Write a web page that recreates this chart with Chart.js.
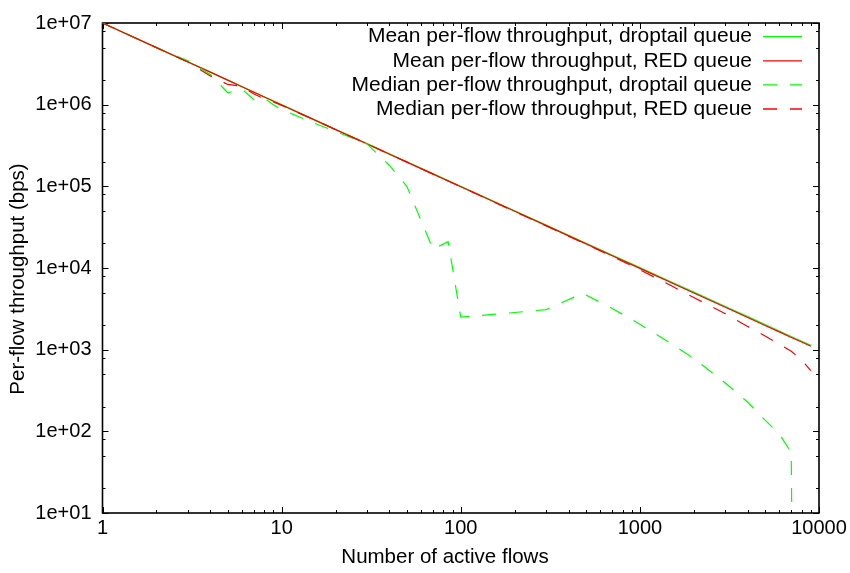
<!DOCTYPE html>
<html>
<head>
<meta charset="utf-8">
<script src="https://cdn.jsdelivr.net/npm/chart.js@4/dist/chart.umd.min.js"></script>
<style>
  html, body { margin: 0; padding: 0; background: #fff; }
  canvas { display: block; }
</style>
</head>
<body>
<canvas id="chart" width="850" height="573"></canvas>
<script>
Chart.defaults.color = '#000';
Chart.defaults.font.family = '"Liberation Sans", Arial, Helvetica, sans-serif';
Chart.defaults.font.size = 20;

// number of active flows (x)
const flows = [1, 2, 3, 4, 5, 6, 7, 8, 9, 10, 15, 20, 30, 40, 50, 70, 85, 100, 200, 300, 480, 700,
    1000, 1500, 2000, 3000, 4000, 5000, 6000, 7000, 8000, 9000];
// the droptail median ends near 7000 and drops off the bottom
const dropFlows = [1, 2, 3, 4, 5, 6, 7, 8, 9, 10, 15, 20, 30, 40, 50, 70, 85, 100, 200, 300, 480, 700,
    1000, 1500, 2000, 3000, 4000, 5000, 6000, 7000, 7100];

const meanDroptail = [1e7, 5e6, 3.34e6, 2.5e6, 2e6, 1.67e6, 1.43e6, 1.25e6, 1.11e6, 1e6, 6.67e5, 5e5, 3.34e5, 2.5e5,
    2e5, 1.43e5, 1.18e5, 1e5, 5.02e4, 3.35e4, 2.1e4, 1.44e4, 1.01e4, 6.75e3, 5.06e3, 3.38e3, 2.54e3, 2.03e3,
    1.69e3, 1.45e3, 1.27e3, 1.13e3];
const meanRed = [1e7, 5e6, 3.33e6, 2.5e6, 2e6, 1.66e6, 1.42e6, 1.24e6, 1.1e6, 0.99e6, 6.6e5, 4.95e5, 3.3e5, 2.47e5,
    1.98e5, 1.41e5, 1.16e5, 0.99e5, 4.95e4, 3.3e4, 2.06e4, 1.41e4, 0.99e4, 6.6e3, 4.95e3, 3.3e3, 2.48e3, 1.98e3,
    1.65e3, 1.41e3, 1.24e3, 1.1e3];
const medianDroptail = [1e7, 5e6, 3.45e6, 2.35e6, 1.4e6, 1.55e6, 1.15e6, 1.2e6, 1.0e6, 8.7e5, 6.0e5, 4.7e5, 3.3e5,
    1.8e5, 1.0e5, 1.7e4, 2.1e4, 2.5e3, 2.85e3, 3.1e3, 4.9e3, 3.2e3, 2.05e3, 1.18e3, 7.8e2, 3.9e2, 2.27e2, 1.37e2,
    93, 55, 1];
const medianRed = [1e7, 5e6, 3.33e6, 2.25e6, 1.77e6, 1.68e6, 1.35e6, 1.18e6, 1.08e6, 0.98e6, 6.6e5, 4.95e5, 3.3e5,
    2.47e5, 1.98e5, 1.41e5, 1.16e5, 0.99e5, 4.9e4, 3.28e4, 2.04e4, 1.39e4, 9.5e3, 6.05e3, 4.35e3, 2.75e3, 1.92e3,
    1.47e3, 1.17e3, 955, 750, 555];

const seriesLabels = [
    'Mean per-flow throughput, droptail queue',
    'Mean per-flow throughput, RED queue',
    'Median per-flow throughput, droptail queue',
    'Median per-flow throughput, RED queue'
];

// axis ticks
const xTickValues = [1, 10, 100, 1000, 10000];
const xTickLabels = ['1', '10', '100', '1000', '10000'];
const yTickValues = [1e1, 1e2, 1e3, 1e4, 1e5, 1e6, 1e7];
const yTickLabels = ['1e+01', '1e+02', '1e+03', '1e+04', '1e+05', '1e+06', '1e+07'];
const xMinorSteps = [2, 3, 4, 5, 6, 7, 8, 9];
const yMinorSteps = [2, 5, 8];

const GREEN = '#00ff00';
const RED = '#ff0000';
const DASH = [14, 13];

const toPoints = (xs, ys) => xs.map((v, i) => ({ x: v, y: ys[i] }));

// border box + inward tick marks on all four sides (gnuplot style)
const frameTicks = {
    id: 'frameTicks',
    beforeDatasetsDraw(chart) {
        const { ctx, chartArea: a, scales: { x, y } } = chart;
        ctx.save();
        ctx.strokeStyle = '#000';
        ctx.lineWidth = 1;
        ctx.beginPath();
        const xMark = (v, len) => {
            const px = Math.round(x.getPixelForValue(v)) + 0.5;
            ctx.moveTo(px, a.bottom); ctx.lineTo(px, a.bottom - len);
            ctx.moveTo(px, a.top); ctx.lineTo(px, a.top + len);
        };
        const yMark = (v, len) => {
            const py = Math.round(y.getPixelForValue(v)) + 0.5;
            ctx.moveTo(a.left, py); ctx.lineTo(a.left + len, py);
            ctx.moveTo(a.right, py); ctx.lineTo(a.right - len, py);
        };
        xTickValues.forEach(v => {
            xMark(v, 6);
            if (v < 10000) xMinorSteps.forEach(m => xMark(v * m, 3));
        });
        yTickValues.forEach(v => {
            yMark(v, 6);
            if (v < 1e7) yMinorSteps.forEach(m => yMark(v * m, 3));
        });
        ctx.stroke();
        ctx.lineWidth = 1.6;
        ctx.strokeRect(a.left, a.top, a.right - a.left, a.bottom - a.top);
        ctx.restore();
    },
    afterDraw(chart) {
        const { ctx } = chart;
        ctx.save();
        ctx.fillStyle = '#000';
        ctx.font = '20.5px "Liberation Sans", Arial, sans-serif';
        ctx.textAlign = 'center';
        ctx.textBaseline = 'middle';
        ctx.fillText('Number of active flows', 445, 557);
        ctx.translate(18, 279);
        ctx.rotate(-Math.PI / 2);
        ctx.fillText('Per-flow throughput (bps)', 0, 0);
        ctx.restore();
    }
};

// key in the top right corner: right-aligned text, line sample on the right
const insideKey = {
    id: 'insideKey',
    afterDatasetsDraw(chart) {
        const { ctx } = chart;
        ctx.save();
        ctx.font = '21px "Liberation Sans", Arial, sans-serif';
        ctx.textAlign = 'right';
        ctx.textBaseline = 'middle';
        chart.data.datasets.forEach((ds, i) => {
            const yy = 36.7 + i * 24.1;
            ctx.fillStyle = '#000';
            ctx.fillText(ds.label, 752, yy);
            ctx.strokeStyle = ds.borderColor;
            ctx.lineWidth = 1.3;
            ctx.setLineDash(ds.borderDash || []);
            ctx.beginPath();
            ctx.moveTo(763, yy);
            ctx.lineTo(802, yy);
            ctx.stroke();
        });
        ctx.restore();
    }
};

const chart = new Chart(document.querySelector('#chart'), {
    type: 'line',
    data: {
        datasets: [
            {
                label: seriesLabels[0],
                data: toPoints(flows, meanDroptail),
                borderColor: GREEN,
                borderWidth: 1.2,
                order: 4,
            },
            {
                label: seriesLabels[1],
                data: toPoints(flows, meanRed),
                borderColor: RED,
                borderWidth: 1.2,
                order: 3,
            },
            {
                label: seriesLabels[2],
                data: toPoints(dropFlows, medianDroptail),
                borderColor: GREEN,
                borderWidth: 1.2,
                borderDash: DASH,
                order: 2,
            },
            {
                label: seriesLabels[3],
                data: toPoints(flows, medianRed),
                borderColor: RED,
                borderWidth: 1.2,
                borderDash: DASH,
                order: 1,
            },
        ]
    },
    options: {
        responsive: false,
        animation: false,
        devicePixelRatio: 1,
        layout: {
            padding: { top: 14, right: 31, left: 0, bottom: 0 }
        },
        elements: {
            point: { radius: 0, hoverRadius: 0 },
            line: { tension: 0, fill: false }
        },
        scales: {
            x: {
                type: 'logarithmic',
                min: 1,
                max: 10000,
                afterBuildTicks: (s) => { s.ticks = xTickValues.map(v => ({ value: v })); },
                afterFit: (s) => { s.height = 60; },
                grid: { display: false, drawTicks: false },
                border: { display: false },
                ticks: {
                    autoSkip: false,
                    maxRotation: 0,
                    padding: 3,
                    callback: (value, index) => xTickLabels[index],
                }
            },
            y: {
                type: 'logarithmic',
                min: 10,
                max: 1e7,
                afterBuildTicks: (s) => { s.ticks = yTickValues.map(v => ({ value: v })); },
                afterFit: (s) => { s.width = 102.5; },
                grid: { display: false, drawTicks: false },
                border: { display: false },
                ticks: {
                    autoSkip: false,
                    padding: 11,
                    callback: (value, index) => yTickLabels[index],
                }
            }
        },
        plugins: {
            legend: { display: false },
            tooltip: { enabled: false }
        }
    },
    plugins: [frameTicks, insideKey],
});
</script>
</body>
</html>
